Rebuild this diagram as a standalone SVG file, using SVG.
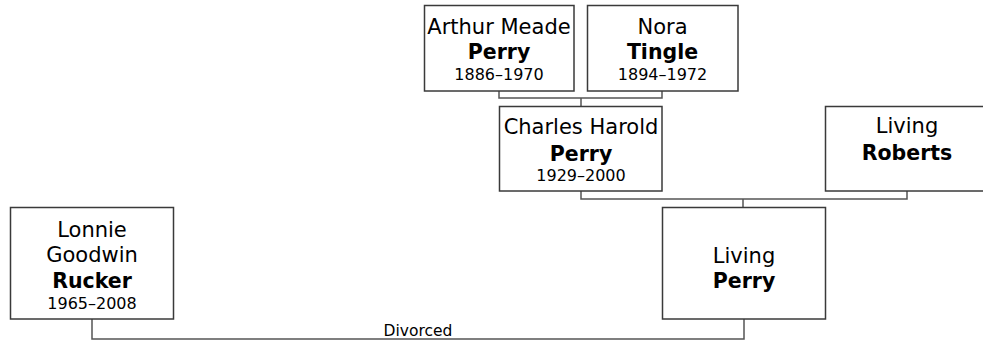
<svg xmlns="http://www.w3.org/2000/svg" width="983" height="349" viewBox="0 0 983 349">
<style>
.box{fill:#fff;stroke:#3a3a3a;stroke-width:1.5}
.ln{fill:none;stroke:#555;stroke-width:1.5}
text{font-family:"DejaVu Sans",Verdana,sans-serif;text-anchor:middle;fill:#000}
.n{font-size:21px}
.b{font-size:20.5px;font-weight:bold}
.d{font-size:16px}
.lbl{font-size:15.5px}
</style>
<rect width="983" height="349" fill="#fff"/>
<g id="connectors">
<path class="ln" d="M499,91V98H662V91M581,98V107"/>
<path class="ln" d="M581,191V199H907V191M743,199V207"/>
<path class="ln" d="M92,319V339H744V319"/>
<text class="lbl" x="418" y="336">Divorced</text>
</g>
<g id="arthur">
<rect class="box" x="424.5" y="5.5" width="149.5" height="85.5"/>
<text class="n" x="499" y="34">Arthur Meade</text>
<text class="b" x="499" y="59">Perry</text>
<text class="d" x="499" y="80">1886–1970</text>
</g>
<g id="nora">
<rect class="box" x="587.5" y="5.5" width="150.5" height="85.5"/>
<text class="n" x="662.5" y="34">Nora</text>
<text class="b" x="662.5" y="59">Tingle</text>
<text class="d" x="662.5" y="80">1894–1972</text>
</g>
<g id="charles">
<rect class="box" x="499.5" y="106.5" width="162.5" height="84.5"/>
<text class="n" x="581" y="134">Charles Harold</text>
<text class="b" x="581" y="161">Perry</text>
<text class="d" x="581" y="181">1929–2000</text>
</g>
<g id="roberts">
<rect class="box" x="825.5" y="106.5" width="163" height="84.5"/>
<text class="n" x="907" y="133">Living</text>
<text class="b" x="907" y="160">Roberts</text>
</g>
<g id="living-perry">
<rect class="box" x="662.5" y="207.5" width="163" height="111.5"/>
<text class="n" x="744" y="263">Living</text>
<text class="b" x="744" y="288">Perry</text>
</g>
<g id="lonnie">
<rect class="box" x="10.5" y="207.5" width="163" height="111.5"/>
<text class="n" x="92" y="237">Lonnie</text>
<text class="n" x="92" y="262">Goodwin</text>
<text class="b" x="92" y="288">Rucker</text>
<text class="d" x="92" y="309">1965–2008</text>
</g>
</svg>
